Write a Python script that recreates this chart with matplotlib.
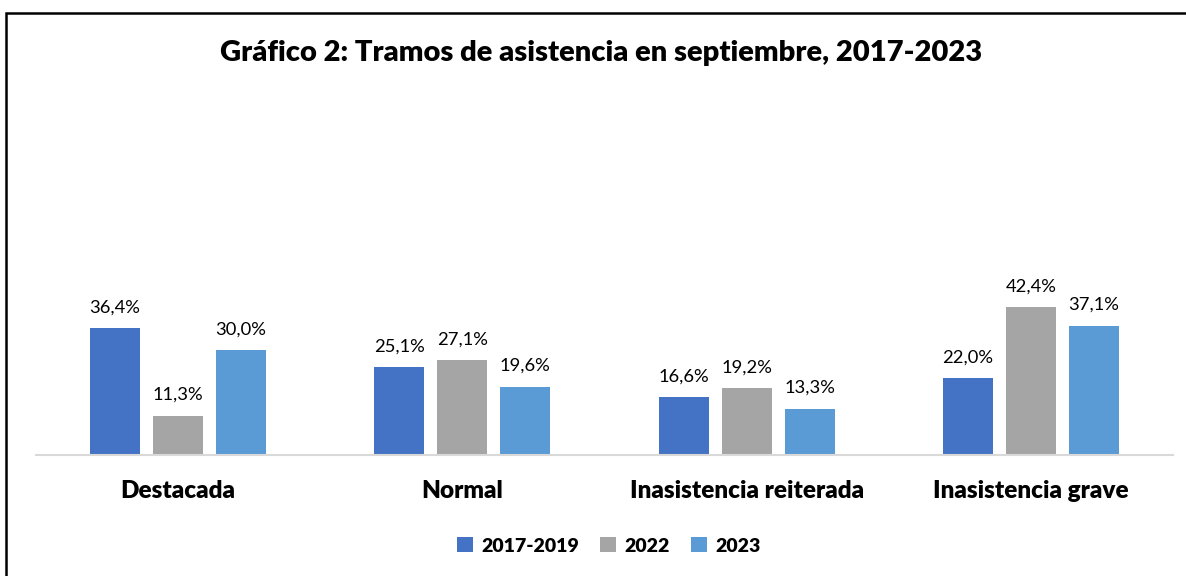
import numpy as np
import matplotlib.pyplot as plt
from matplotlib.patches import Rectangle

# Datos del gráfico
categorias = ['Destacada', 'Normal', 'Inasistencia reiterada', 'Inasistencia grave']
series = ['2017-2019', '2022', '2023']
v_2017_2019 = [36.4, 25.1, 16.6, 22.0]
v_2022 = [11.3, 27.1, 19.2, 42.4]
v_2023 = [30.0, 19.6, 13.3, 37.1]
colores = ['#4472C4', '#A5A5A5', '#5B9BD5']

plt.rcParams['font.family'] = ['Lato', 'DejaVu Sans']

fig = plt.figure(figsize=(11.86, 5.76), dpi=100)
ax = fig.add_axes([36/1186, 121/576, 1137/1186, 349/576])

x = np.arange(len(categorias))
ancho = 50/284.25
paso = 63/284.25
for i, (vals, nombre) in enumerate(zip([v_2017_2019, v_2022, v_2023], series)):
    pos = x + (i - 1) * paso
    barras = ax.bar(pos, vals, width=ancho, color=colores[i], label=nombre)
    for b, v in zip(barras, vals):
        ax.annotate(f'{v:.1f}%'.replace('.', ','), (b.get_x() + b.get_width()/2, v),
                    xytext=(0, 9), textcoords='offset points', ha='center', va='bottom',
                    fontsize=13.2, color='#000000')

ax.set_xlim(-0.5, len(categorias) - 0.5)
ax.set_ylim(0, 100)
ax.set_yticks([])
for s in ['top', 'right', 'left']:
    ax.spines[s].set_visible(False)
ax.spines['bottom'].set_color('#D9D9D9')
ax.spines['bottom'].set_linewidth(1.5)
ax.set_xticks(x)
ax.set_xticklabels(categorias, fontsize=17.5, fontweight='heavy')
ax.tick_params(axis='x', length=0, pad=18)

fig.text(601/1186, 1 - 53/576, 'Gráfico 2: Tramos de asistencia en septiembre, 2017-2023',
         ha='center', va='center', fontsize=21, fontweight='heavy')

fig.legend(loc='center', bbox_to_anchor=(609/1186, 1 - 546/576), ncol=3, frameon=False,
           prop={'size': 14, 'weight': 'heavy'}, handlelength=0.8, handleheight=0.8,
           handletextpad=0.45, columnspacing=1.1)

# marco del gráfico
fig.patches.append(Rectangle((6/1186, -0.1), 1.2, 1 - 13/576 + 0.1, transform=fig.transFigure,
                             fill=False, edgecolor='#000000', linewidth=1.8))

fig.savefig('out.png', dpi=100)
